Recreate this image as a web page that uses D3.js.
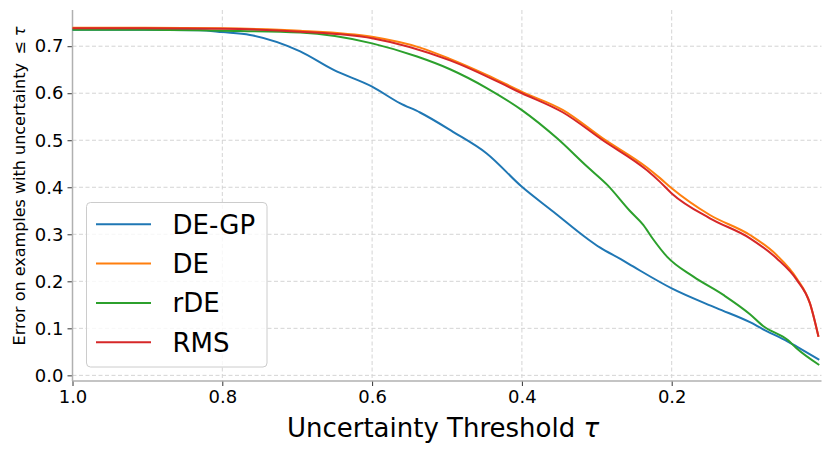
<!DOCTYPE html>
<html>
<head>
<meta charset="utf-8">
<script src="https://cdn.jsdelivr.net/npm/d3@7"></script>
<style>
    body { margin: 0; background: #fff; }
    svg { display: block; font-family: 'DejaVu Sans', sans-serif; }
</style>
</head>
<body>
<div id="chart"></div>
<script>
/* -----------------    DATA     ------------------ */

// threshold tau (descending, as on the axis)
const tauDEGP = [1.0, 0.904, 0.83, 0.8, 0.763, 0.696, 0.652, 0.6, 0.563, 0.536, 0.492, 0.447, 0.4, 0.358, 0.313, 0.296, 0.268, 0.251, 0.2, 0.14, 0.0955, 0.078, 0.045, 0.033, 0.003];
const errDEGP = [0.735, 0.735, 0.734, 0.730, 0.724, 0.689, 0.650, 0.614, 0.579, 0.559, 0.518, 0.472, 0.401, 0.348, 0.291, 0.272, 0.247, 0.231, 0.185, 0.143, 0.113, 0.098, 0.072, 0.061, 0.033];

const tauDE = [1.0, 0.904, 0.8, 0.696, 0.6, 0.536, 0.496, 0.447, 0.4, 0.345, 0.292, 0.233, 0.216, 0.2, 0.149, 0.0955, 0.06, 0.033, 0.0154, 0.004];
const errDE = [0.739, 0.739, 0.738, 0.733, 0.720, 0.697, 0.673, 0.639, 0.603, 0.564, 0.504, 0.442, 0.420, 0.398, 0.341, 0.2985, 0.256, 0.206, 0.153, 0.082];

const tauRDE = [1.0, 0.904, 0.8, 0.696, 0.6, 0.54, 0.496, 0.447, 0.4, 0.353, 0.313, 0.286, 0.256, 0.238, 0.225, 0.206, 0.171, 0.131, 0.0955, 0.078, 0.045, 0.033, 0.003];
const errRDE = [0.735, 0.735, 0.733, 0.729, 0.706, 0.678, 0.651, 0.611, 0.564, 0.504, 0.444, 0.405, 0.350, 0.320, 0.290, 0.252, 0.210, 0.171, 0.130, 0.105, 0.075, 0.057, 0.022];

const tauRMS = [1.0, 0.904, 0.8, 0.696, 0.6, 0.496, 0.4, 0.345, 0.292, 0.233, 0.216, 0.2, 0.149, 0.0955, 0.06, 0.033, 0.0154, 0.004];
const errRMS = [0.738, 0.738, 0.737, 0.731, 0.717, 0.670, 0.600, 0.559, 0.500, 0.436, 0.412, 0.387, 0.334, 0.2915, 0.249, 0.203, 0.153, 0.082];

const seriesNames = ['DE-GP', 'DE', 'rDE', 'RMS'];
const seriesColors = ['#1f77b4', '#ff7f0e', '#2ca02c', '#d62728'];

const xTicks = [1.0, 0.8, 0.6, 0.4, 0.2];
const yTicks = [0.0, 0.1, 0.2, 0.3, 0.4, 0.5, 0.6, 0.7];

/* -----------------    CONSTANTS     ------------------ */
const graphSettings = {
    svgWidth: 830,
    svgHeight: 452,
    left: 72.5,
    right: 821.5,
    top: 10,
    bottom: 381,
    spine: '#b0b0b0',
    grid: '#d4d4d4'
};

/* -----------------    LOGIC     ------------------ */

const series = [
    { name: seriesNames[0], tau: tauDEGP, err: errDEGP },
    { name: seriesNames[1], tau: tauDE, err: errDE },
    { name: seriesNames[2], tau: tauRDE, err: errRDE },
    { name: seriesNames[3], tau: tauRMS, err: errRMS }
].map((s, i) => ({
    name: s.name,
    color: seriesColors[i],
    points: s.tau.map((t, j) => ({ t, e: s.err[j] }))
}));

const gs = graphSettings;

const svg = d3.select('#chart')
.append('svg')
.attr('width', gs.svgWidth)
.attr('height', gs.svgHeight);

// Scales
const xScale = d3.scaleLinear()
.domain([1.0, 0.0])
.range([gs.left, gs.right]);

const yScale = d3.scaleLinear()
.domain([-0.012, 0.777])
.range([gs.bottom, gs.top]);

// Grid
const grid = svg.append('g').attr('class', 'grid');

grid.selectAll('line.gx')
.data(xTicks)
.enter()
.append('line')
.attr('class', 'gx')
.attr('x1', d => xScale(d))
.attr('x2', d => xScale(d))
.attr('y1', gs.top)
.attr('y2', gs.bottom)
.attr('stroke', gs.grid)
.attr('stroke-width', 1)
.attr('stroke-dasharray', '4,2.5');

grid.selectAll('line.gy')
.data(yTicks)
.enter()
.append('line')
.attr('class', 'gy')
.attr('x1', gs.left)
.attr('x2', gs.right)
.attr('y1', d => yScale(d))
.attr('y2', d => yScale(d))
.attr('stroke', gs.grid)
.attr('stroke-width', 1)
.attr('stroke-dasharray', '4,2.5');

// Axes
const xAxis = d3.axisBottom(xScale)
.tickValues(xTicks)
.tickFormat(d3.format('.1f'))
.tickSize(5)
.tickPadding(4);

const yAxis = d3.axisLeft(yScale)
.tickValues(yTicks)
.tickFormat(d3.format('.1f'))
.tickSize(5)
.tickPadding(4);

const gx = svg.append('g')
.attr('class', 'x axis')
.attr('transform', `translate(0, ${gs.bottom})`)
.call(xAxis);

const gy = svg.append('g')
.attr('class', 'y axis')
.attr('transform', `translate(${gs.left}, 0)`)
.call(yAxis);

[gx, gy].forEach(g => {
    g.select('.domain').remove();
    g.selectAll('.tick line').attr('stroke', '#333').attr('stroke-width', 1);
    g.selectAll('.tick text')
    .attr('fill', '#000')
    .style('font-size', '18px')
    .style('font-family', 'DejaVu Sans');
});

// Spines
svg.append('line')
.attr('x1', gs.left).attr('x2', gs.left)
.attr('y1', gs.top).attr('y2', gs.bottom)
.attr('stroke', gs.spine).attr('stroke-width', 1.5);

svg.append('line')
.attr('x1', gs.left).attr('x2', gs.right)
.attr('y1', gs.bottom).attr('y2', gs.bottom)
.attr('stroke', gs.spine).attr('stroke-width', 1.5);

// Lines
const line = d3.line()
.x(d => xScale(d.t))
.y(d => yScale(d.e))
.curve(d3.curveMonotoneX);

svg.append('g')
.attr('class', 'lines')
.selectAll('path')
.data(series)
.enter()
.append('path')
.attr('d', d => line(d.points))
.attr('fill', 'none')
.attr('stroke', d => d.color)
.attr('stroke-width', 2)
.attr('stroke-linejoin', 'round');

// Axis labels
const xLabel = svg.append('text')
.attr('x', (gs.left + gs.right) / 2 - 4)
.attr('y', 437)
.attr('text-anchor', 'middle')
.style('font-size', '26px');
xLabel.append('tspan').text('Uncertainty Threshold ');
xLabel.append('tspan').style('font-style', 'italic').text('\u03c4');

const yLabel = svg.append('text')
.attr('transform', `translate(25, 186) rotate(-90)`)
.attr('text-anchor', 'middle')
.style('font-size', '16px');
yLabel.append('tspan').text('Error on examples with uncertainty \u2009\u2264 ');
yLabel.append('tspan').style('font-style', 'italic').text('\u03c4');

// Legend
const legend = svg.append('g').attr('class', 'legend');

legend.append('rect')
.attr('x', 86.5)
.attr('y', 202.5)
.attr('width', 180.5)
.attr('height', 164.5)
.attr('rx', 4)
.attr('fill', 'rgba(255,255,255,0.8)')
.attr('stroke', '#cccccc')
.attr('stroke-width', 1);

const rows = legend.selectAll('g.row')
.data(series)
.enter()
.append('g')
.attr('class', 'row')
.attr('transform', (d, i) => `translate(0, ${224.3 + i * 39.3})`);

rows.append('line')
.attr('x1', 96).attr('x2', 151)
.attr('y1', 0).attr('y2', 0)
.attr('stroke', d => d.color)
.attr('stroke-width', 2);

rows.append('text')
.attr('x', 172.5)
.attr('y', 0)
.attr('dy', '0.36em')
.style('font-size', '26px')
.text(d => d.name);
</script>
</body>
</html>
